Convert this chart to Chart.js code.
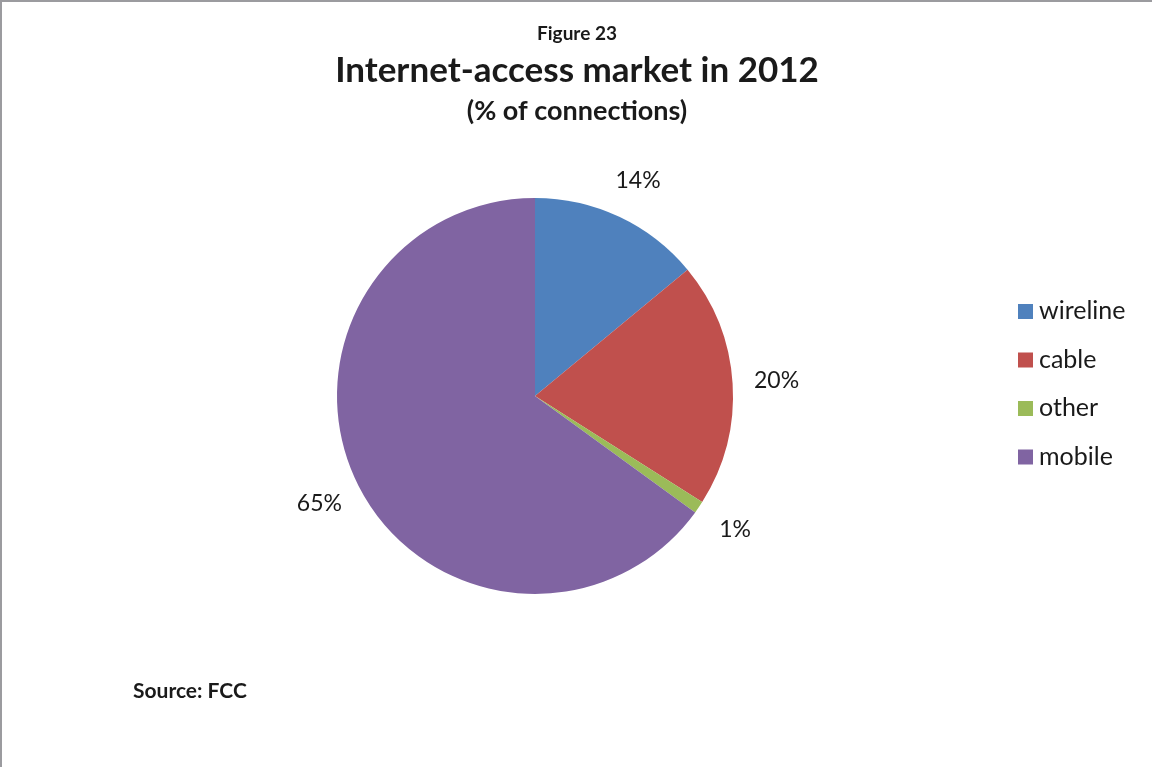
<!DOCTYPE html>
<html>
<head>
<meta charset="utf-8">
<script src="https://cdn.jsdelivr.net/npm/chart.js@4/dist/chart.umd.min.js"></script>
<style>
html,body{margin:0;padding:0;background:#fff;}
#wrap{width:1152px;height:767px;position:relative;}
</style>
</head>
<body>
<div id="wrap"><canvas id="c" width="1152" height="767"></canvas></div>
<script>
const categories = ["wireline", "cable", "other", "mobile"];
const shares = [14, 20, 1, 65];
const sliceColors = ["#4F81BD", "#C0504D", "#9BBB59", "#8064A2"];
const figureLabel = "Figure 23";
const titleText = "Internet-access market in 2012";
const subtitleText = "(% of connections)";
const sourceText = "Source: FCC";

const FONT = "Lato, 'Open Sans', sans-serif";
const TEXT = "#1a1a1a";

const decor = {
  id: "decor",
  afterDraw(chart) {
    const ctx = chart.ctx;
    ctx.save();
    ctx.fillStyle = "#9b9b9f";
    ctx.fillRect(0, 0, chart.width, 2);
    ctx.fillRect(0, 0, 2, chart.height);
    ctx.fillStyle = TEXT;
    ctx.textAlign = "center";
    ctx.textBaseline = "middle";
    ctx.font = "bold 19px " + FONT;
    ctx.fillText(figureLabel, 577, 34);
    ctx.font = "bold 35px " + FONT;
    ctx.fillText(titleText, 577, 71);
    ctx.font = "bold 27px " + FONT;
    ctx.fillText(subtitleText, 577, 111);
    ctx.textAlign = "left";
    ctx.font = "bold 21px " + FONT;
    ctx.fillText(sourceText, 133, 691);
    const meta = chart.getDatasetMeta(0);
    ctx.font = "23px " + FONT;
    ctx.textAlign = "center";
    meta.data.forEach((arc, i) => {
      const p = arc.getProps(["x", "y", "startAngle", "endAngle", "outerRadius"], true);
      const mid = (p.startAngle + p.endAngle) / 2;
      const d = p.outerRadius + 40;
      ctx.fillText(chart.data.datasets[0].data[i] + "%", p.x + Math.cos(mid) * d + Math.cos(mid) * 4, p.y + Math.sin(mid) * d);
    });
    ctx.textAlign = "left";
    ctx.font = "25px " + FONT;
    chart.data.labels.forEach((lab, i) => {
      const y = 311 + i * 48.5;
      ctx.fillStyle = chart.data.datasets[0].backgroundColor[i];
      ctx.fillRect(1018, y - 7, 15, 15);
      ctx.fillStyle = TEXT;
      ctx.fillText(lab, 1039, y);
    });
    ctx.restore();
  }
};

new Chart(document.getElementById("c"), {
  type: "pie",
  data: {
    labels: categories,
    datasets: [{ data: shares, backgroundColor: sliceColors, borderWidth: 0 }]
  },
  options: {
    responsive: false,
    animation: false,
    layout: { padding: { top: 198, bottom: 173, left: 337, right: 419 } },
    plugins: { legend: { display: false }, tooltip: { enabled: false }, title: { display: false } }
  },
  plugins: [decor]
});
</script>
</body>
</html>
